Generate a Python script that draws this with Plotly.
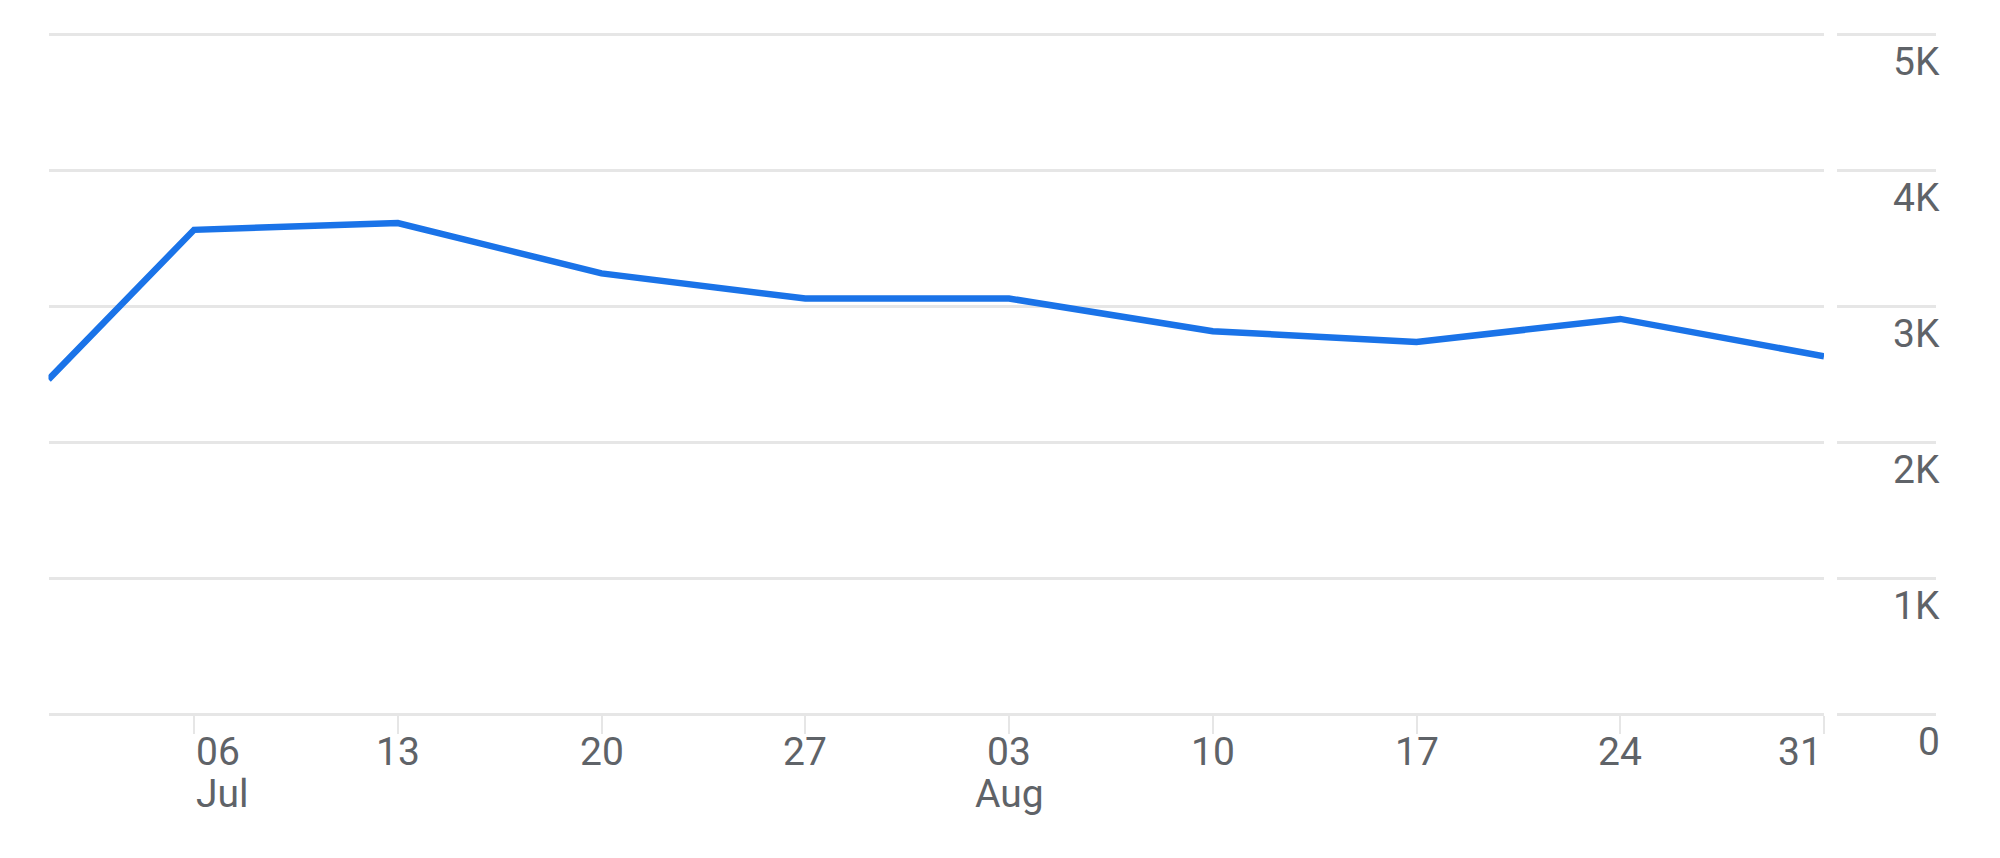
import plotly.graph_objects as go

# ---- data ----
dates = ["2024-07-01", "2024-07-06", "2024-07-13", "2024-07-20", "2024-07-27",
         "2024-08-03", "2024-08-10", "2024-08-17", "2024-08-24", "2024-08-31"]
values = [2460, 3560, 3610, 3240, 3055, 3055, 2815, 2735, 2905, 2630]

tick_dates = ["2024-07-06", "2024-07-13", "2024-07-20", "2024-07-27",
              "2024-08-03", "2024-08-10", "2024-08-17", "2024-08-24", "2024-08-31"]
day_labels = ["06", "13", "20", "27", "03", "10", "17", "24", "31"]
day_anchor = ["left", "center", "center", "center", "center", "center", "center", "center", "right"]
month_dates = ["2024-07-06", "2024-08-03"]
month_labels = ["Jul", "Aug"]
month_anchor = ["left", "center"]

y_ticks = [0, 1000, 2000, 3000, 4000, 5000]
y_labels = ["0", "1K", "2K", "3K", "4K", "5K"]

W, H = 2000, 858
OFF = 8  # page body margin
FONT = "Roboto"
TXT = "#5f6368"
GRID = "#e6e6e6"

plot_left, plot_right = 48.5 - OFF, 1824 - OFF
col_left, col_right = 1837 - OFF, 1936 - OFF
y_range = [-10, 5010]
px_per_unit = 136 / 1000
y_zero = 714 - OFF
y_bottom = y_zero + (0 - y_range[0]) * px_per_unit
y_top = y_zero - y_range[1] * px_per_unit
dom_y = [(H - y_bottom) / H, (H - y_top) / H]
axis_paper_y = (H - y_zero) / H

fig = go.Figure()
fig.add_trace(go.Scatter(x=dates, y=values, mode="lines",
                         line=dict(color="#1a73e8", width=6.5), hoverinfo="skip",
                         showlegend=False))
# empty helper trace so the right-hand label column subplot is drawn
fig.add_trace(go.Scatter(x=[], y=[], xaxis="x2", yaxis="y2", mode="lines",
                         hoverinfo="skip", showlegend=False))

fig.update_layout(
    width=W, height=H,
    margin=dict(l=0, r=0, t=0, b=0),
    paper_bgcolor="white", plot_bgcolor="white",
    font=dict(family=FONT, color=TXT, size=39),
    showlegend=False,
    xaxis=dict(
        domain=[plot_left / W, plot_right / W],
        type="date", range=[dates[0], dates[-1]],
        tickvals=tick_dates, showticklabels=False,
        ticks="outside", ticklen=18, tickwidth=2, tickcolor=GRID,
        showline=False, showgrid=False, zeroline=False, anchor="y",
    ),
    yaxis=dict(
        domain=dom_y, range=y_range,
        tickvals=y_ticks, showticklabels=False,
        showgrid=True, gridcolor=GRID, gridwidth=2.5,
        zeroline=False, showline=False, anchor="x",
    ),
    xaxis2=dict(
        domain=[col_left / W, col_right / W], range=[0, 1],
        visible=False, anchor="y2",
    ),
    yaxis2=dict(
        domain=dom_y, range=y_range, anchor="x2", side="right",
        tickvals=y_ticks, showticklabels=False,
        showgrid=True, gridcolor=GRID, gridwidth=2.5,
        zeroline=False, showline=False, ticks="",
    ),
)

ann = []
for d, t, a in zip(tick_dates, day_labels, day_anchor):
    ann.append(dict(x=d, xref="x", y=axis_paper_y, yref="paper", text=t,
                    showarrow=False, xanchor=a, yanchor="middle", yshift=-38,
                    font=dict(family=FONT, color=TXT, size=39)))
for d, t, a in zip(month_dates, month_labels, month_anchor):
    ann.append(dict(x=d, xref="x", y=axis_paper_y, yref="paper", text=t,
                    showarrow=False, xanchor=a, yanchor="middle", yshift=-80,
                    font=dict(family=FONT, color=TXT, size=39)))
for v, t in zip(y_ticks, y_labels):
    ann.append(dict(x=1, xref="x2 domain", y=v, yref="y2", text=t,
                    showarrow=False, xanchor="right", yanchor="middle", yshift=-28,
                    xshift=6, font=dict(family=FONT, color=TXT, size=39)))
fig.update_layout(annotations=ann)

fig.write_html("out.html")
